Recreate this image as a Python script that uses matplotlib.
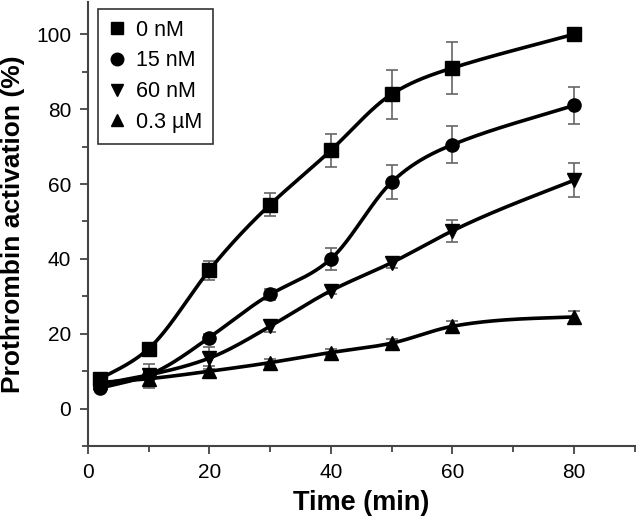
import numpy as np
import matplotlib.pyplot as plt
from matplotlib.ticker import MultipleLocator

plt.rcParams['font.family'] = ['Liberation Sans', 'DejaVu Sans']

# Time points (min)
time = [2, 10, 20, 30, 40, 50, 60, 80]

# Prothrombin activation (%) and error bars for each inhibitor concentration
act_0nM = [8, 16, 37, 54.5, 69, 84, 91, 100]
err_0nM = [1, 1, 2.5, 3, 4.5, 6.5, 7, 0.5]
act_15nM = [5.5, 9, 19, 30.5, 40, 60.5, 70.5, 81]
err_15nM = [0.5, 1, 1, 1.5, 3, 4.5, 5, 5]
act_60nM = [6.5, 9, 13.5, 22, 31.5, 39, 47.5, 61]
err_60nM = [0.5, 3, 3, 1.5, 1, 1.5, 3, 4.5]
act_03uM = [7, 8, 10, 12.3, 15, 17.5, 22, 24.5]
err_03uM = [0.5, 2.5, 1.5, 1, 1, 1, 1.5, 1.5]

labels = ['0 nM', '15 nM', '60 nM', '0.3 \u00b5M']
markers = ['s', 'o', 'v', '^']


def smooth_curve(x, y, n=400):
    # blend of natural cubic spline and monotone cubic through the points
    x = np.asarray(x, float)
    y = np.asarray(y, float)
    npt = len(x)
    h = np.diff(x)
    d = np.diff(y) / h
    A = np.zeros((npt, npt))
    b = np.zeros(npt)
    A[0, 0] = A[-1, -1] = 1
    for i in range(1, npt - 1):
        A[i, i - 1] = h[i - 1]
        A[i, i] = 2 * (h[i - 1] + h[i])
        A[i, i + 1] = h[i]
        b[i] = 6 * (d[i] - d[i - 1])
    M = np.linalg.solve(A, b)
    xs = np.linspace(x[0], x[-1], n)
    idx = np.clip(np.searchsorted(x, xs) - 1, 0, npt - 2)
    x0, x1, hh = x[idx], x[idx + 1], h[idx]
    ys_spl = (M[idx] * (x1 - xs) ** 3 / (6 * hh) + M[idx + 1] * (xs - x0) ** 3 / (6 * hh)
              + (y[idx] / hh - M[idx] * hh / 6) * (x1 - xs)
              + (y[idx + 1] / hh - M[idx + 1] * hh / 6) * (xs - x0))
    m = np.zeros_like(y)
    for k in range(1, npt - 1):
        if d[k - 1] * d[k] > 0:
            w1 = 2 * h[k] + h[k - 1]
            w2 = h[k] + 2 * h[k - 1]
            m[k] = (w1 + w2) / (w1 / d[k - 1] + w2 / d[k])
    m[0], m[-1] = d[0], d[-1]
    t = (xs - x0) / hh
    ys_mono = ((2 * t**3 - 3 * t**2 + 1) * y[idx] + (t**3 - 2 * t**2 + t) * hh * m[idx]
               + (-2 * t**3 + 3 * t**2) * y[idx + 1] + (t**3 - t**2) * hh * m[idx + 1])
    return xs, 0.5 * (ys_spl + ys_mono)


fig = plt.figure(figsize=(6.36, 5.23), dpi=100)
ax = fig.add_axes([0.138, 0.147, 0.86, 0.849])

series = [(act_0nM, err_0nM), (act_15nM, err_15nM), (act_60nM, err_60nM), (act_03uM, err_03uM)]
for (vals, errs), lab, mk in zip(series, labels, markers):
    ax.errorbar(time, vals, yerr=errs, fmt='none', ecolor='#666666', elinewidth=1.2,
                capsize=4, capthick=1.2, zorder=2)
    xs, ys = smooth_curve(time, vals)
    ax.plot(xs, ys, color='black', lw=2.6, zorder=3)
    ax.plot(time, vals, linestyle='none', marker=mk, color='black', ms=9.5, label=lab, zorder=4)

ax.set_xlim(0, 90)
ax.set_ylim(-10, 108.6)
ax.set_xticks([0, 20, 40, 60, 80])
ax.set_yticks([0, 20, 40, 60, 80, 100])
ax.xaxis.set_minor_locator(MultipleLocator(10))
ax.yaxis.set_minor_locator(MultipleLocator(10))
ax.tick_params(which='major', direction='out', length=6, width=1.3, color='#444444', labelsize=15, pad=6)
ax.tick_params(which='minor', direction='out', length=4, width=1.3, color='#444444')

for s in ['top', 'right']:
    ax.spines[s].set_visible(False)
for s in ['left', 'bottom']:
    ax.spines[s].set_color('#444444')
    ax.spines[s].set_linewidth(1.5)

ax.set_xlabel('Time (min)', fontsize=19.5, fontweight='bold', labelpad=6)
ax.set_ylabel('Prothrombin activation (%)', fontsize=19, fontweight='bold', labelpad=8)

leg = ax.legend(loc='upper left', bbox_to_anchor=(98 / 636, 1 - 9 / 523), bbox_transform=fig.transFigure,
                borderaxespad=0, fontsize=15.5, frameon=True, fancybox=False, handlelength=0.8,
                handletextpad=0.45, borderpad=0.5, labelspacing=0.45, markerscale=0.95)
leg.get_frame().set_edgecolor('black')
leg.get_frame().set_linewidth(1.2)

fig.savefig('out.png', dpi=100)
